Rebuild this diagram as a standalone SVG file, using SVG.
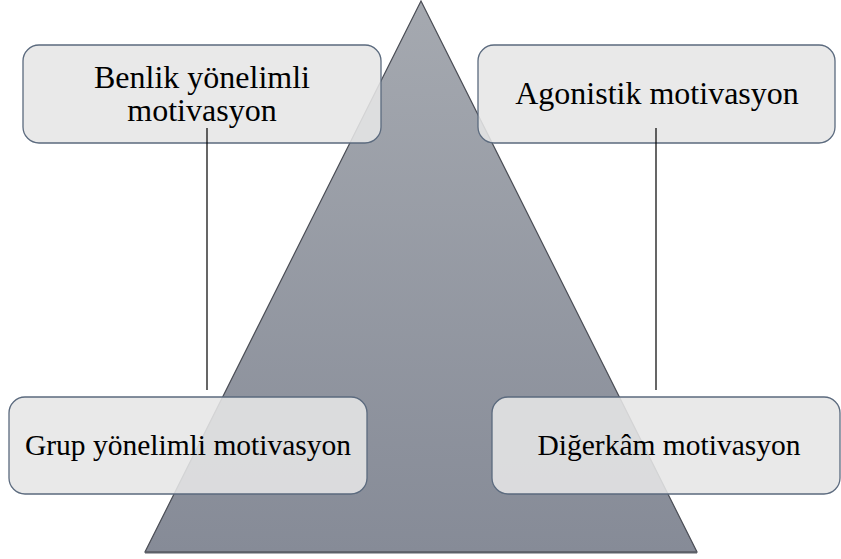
<svg xmlns="http://www.w3.org/2000/svg" width="841" height="559" viewBox="0 0 841 559">
<defs>
<linearGradient id="tri" x1="0" y1="0" x2="0" y2="1">
<stop offset="0" stop-color="#a5a9b0"/>
<stop offset="1" stop-color="#868b97"/>
</linearGradient>
<style>
.box{fill:#e6e6e6;fill-opacity:0.88;stroke:#5b6a7e;stroke-width:1.3}
.lbl{font-family:'Liberation Serif','DejaVu Serif',serif;font-size:32px;fill:#000;text-anchor:middle}
.sm{font-size:29.5px}
.con{stroke:#000;stroke-width:1.2;fill:none}
</style>
</defs>
<rect width="841" height="559" fill="#fff"/>
<g id="pyramid">
<polygon points="421,1 145,552 697,552" fill="url(#tri)" stroke="#4a4d55" stroke-width="1.2"/>
<line x1="145" y1="552.5" x2="697" y2="552.5" stroke="#5c6068" stroke-width="2"/>
</g>
<g id="node-benlik">
<rect class="box" x="23" y="45" width="358" height="98" rx="16"/>
<text class="lbl" x="202" y="87.5">Benlik yönelimli</text>
<text class="lbl" x="202" y="120.5">motivasyon</text>
</g>
<g id="node-agonistik">
<rect class="box" x="478" y="45" width="357" height="98" rx="16"/>
<text class="lbl" x="657" y="104">Agonistik motivasyon</text>
</g>
<g id="node-grup">
<rect class="box" x="9" y="397" width="358" height="97" rx="16"/>
<text class="lbl sm" x="188" y="455">Grup yönelimli motivasyon</text>
</g>
<g id="node-digerkam">
<rect class="box" x="492" y="397" width="348" height="97" rx="16"/>
<text class="lbl sm" x="669" y="455">Diğerkâm motivasyon</text>
</g>
<g id="connectors">
<line class="con" x1="207" y1="128" x2="207" y2="390"/>
<line class="con" x1="656" y1="128" x2="656" y2="390"/>
</g>
</svg>
